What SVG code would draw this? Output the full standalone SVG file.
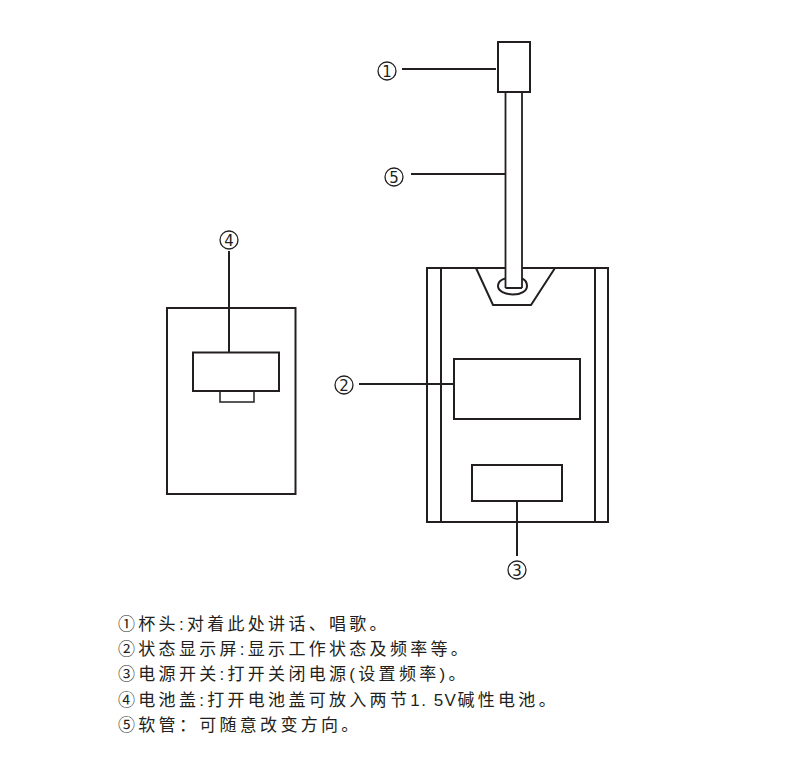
<svg xmlns="http://www.w3.org/2000/svg" width="790" height="764" viewBox="0 0 790 764">
<style>
.s{fill:none;stroke:#231f20;stroke-width:2}
.m{fill:#fff;stroke:#231f20;stroke-width:2}
.n{fill:none;stroke:#231f20;stroke-width:1.300}
.l{font-family:"DejaVu Sans","Liberation Sans",sans-serif;font-size:15px;fill:#231f20;text-anchor:middle}
.t{font-family:"Liberation Sans","Noto Sans CJK SC",sans-serif;font-size:17px;fill:#231f20;letter-spacing:3.300px}
.a{letter-spacing:1.500px}
</style>
<rect width="790" height="764" fill="#fff"/>
<g id="hose">
<path class="s" style="stroke-width:1.800" d="M505.500 92V288M522 92V288M505.500 288H522"/>
</g>
<g id="cup-head">
<rect class="m" x="498" y="42" width="32" height="50"/>
</g>
<g id="main-body">
<path class="s" d="M505 268H427V522H608V268H522M441 268V522M595 268V522"/>
<path class="s" d="M476 268L493 305H531L555 268"/>
<path class="s" d="M505 278.500C500 280 498 283 498 286C498 291 505 294.500 513 294.500C521 294.500 527 291 527 286C527 283 525.500 280 522 278.500"/>
</g>
<g id="display">
<rect class="s" x="454" y="359" width="126" height="60"/>
</g>
<g id="power-switch">
<rect class="s" x="472" y="465" width="90" height="36"/>
</g>
<g id="battery-cover">
<rect class="s" x="167" y="308" width="128.500" height="186"/>
<rect class="s" x="193" y="352.500" width="86" height="38.500"/>
<rect class="s" x="220" y="391" width="34" height="11" style="stroke-width:1.500"/>
</g>
<g id="connectors">
<path class="s" d="M402 69H496M411 174H505M359 384H454M517 501V556M229 251V352"/>
</g>
<g id="label-1"><circle class="n" cx="387" cy="71" r="9"/><text class="l" x="387" y="76.500">1</text></g>
<g id="label-5"><circle class="n" cx="394" cy="177" r="9"/><text class="l" x="394" y="182.500">5</text></g>
<g id="label-4"><circle class="n" cx="229" cy="240" r="9"/><text class="l" x="229" y="245.500">4</text></g>
<g id="label-2"><circle class="n" cx="344" cy="385" r="9"/><text class="l" x="344" y="390.500">2</text></g>
<g id="label-3"><circle class="n" cx="517" cy="570" r="9"/><text class="l" x="517" y="575.500">3</text></g>
<g id="legend">
<text class="t" x="118" y="630">①杯头:对着此处讲话、唱歌。</text>
<text class="t" x="118" y="655">②状态显示屏:显示工作状态及频率等。</text>
<text class="t" x="118" y="680">③电源开关:打开关闭电源(设置频率)。</text>
<text class="t" x="118" y="706">④电池盖:打开电池盖可放入两节<tspan class="a">1. 5V</tspan>碱性电池。</text>
<text class="t" x="118" y="731">⑤软管：可随意改变方向。</text>
</g>
</svg>
